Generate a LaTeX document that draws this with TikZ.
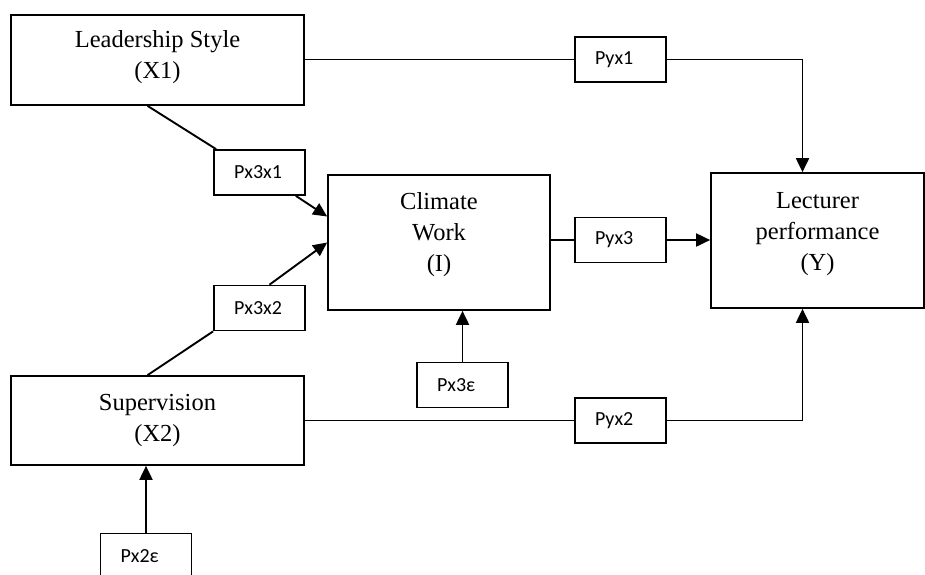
\documentclass[tikz,border=0pt]{standalone}
\usepackage{fontspec}
\setmainfont{Liberation Serif}
\newfontfamily\lblfont{Carlito}
\usetikzlibrary{arrows.meta,positioning,calc}

\begin{document}
\begin{tikzpicture}[x=1pt,y=-1pt,
box/.style={draw,rectangle,line width=1.7pt,inner sep=0pt},
boxtext/.style={align=center,font=\fontsize{24.5}{31}\selectfont,inner sep=0pt},
pbox/.style={draw,rectangle,line width=1.7pt,align=left,font=\lblfont\fontsize{20}{24}\selectfont,inner xsep=20pt,inner ysep=0pt,text width=51pt,minimum height=45pt},
conn/.style={line width=1.9pt},
arr/.style={conn,-{Triangle[length=14pt,width=13pt]}}]
\useasboundingbox (0,0) rectangle (925,574);
\node[box,minimum width=293pt,minimum height=90pt,label={[boxtext,yshift=3pt]center:{Leadership Style\\(X1)}}] (lead) at (157.5,60) {};
\node[box,minimum width=293pt,minimum height=89pt,label={[boxtext]center:{Supervision\\(X2)}}] (sup) at (157.5,420.5) {};
\node[box,minimum width=222pt,minimum height=135pt,label={[boxtext,yshift=8pt]center:{Climate\\Work\\(I)}}] (clim) at (439,242.5) {};
\node[box,minimum width=213pt,minimum height=135pt,label={[boxtext,yshift=6pt]center:{Lecturer\\performance\\(Y)}}] (lect) at (817.5,240.5) {};
\node[pbox] (px3x1) at (259.5,172.5) {Px3x1};
\node[pbox] (px3x2) at (259.5,308) {Px3x2};
\node[pbox] (px3e) at (462.5,385) {Px3ε};
\node[pbox] (px2e) at (146,556) {Px2ε};
\node[pbox] (pyx1) at (620.5,59.5) {Pyx1};
\node[pbox] (pyx3) at (620.5,240) {Pyx3};
\node[pbox] (pyx2) at (620.5,420.5) {Pyx2};
\draw[conn] (lead.east |- pyx1) -- (pyx1.west);
\draw[arr] (pyx1.east) -| ([xshift=-15pt]lect.north);
\draw[conn] (sup.east |- pyx2) -- (pyx2.west);
\draw[arr] (pyx2.east) -| ([xshift=-15pt]lect.south);
\draw[conn] (clim.east |- pyx3) -- (pyx3.west);
\draw[arr] (pyx3.east) -- (lect.west |- pyx3);
\draw[conn] ([xshift=-10pt]lead.south) -- ([xshift=3pt]px3x1.north west);
\draw[arr] ([xshift=-10pt]px3x1.south east) -- ([yshift=26pt]clim.west);
\draw[conn] ([xshift=-10pt]sup.north) -- (px3x2.south west);
\draw[arr] ([xshift=10pt]px3x2.north) -- (clim.west);
\draw[arr] (px3e.north) -- (px3e.north |- clim.south);
\draw[arr] (px2e.north) -- (px2e.north |- sup.south);
\end{tikzpicture}
\end{document}
